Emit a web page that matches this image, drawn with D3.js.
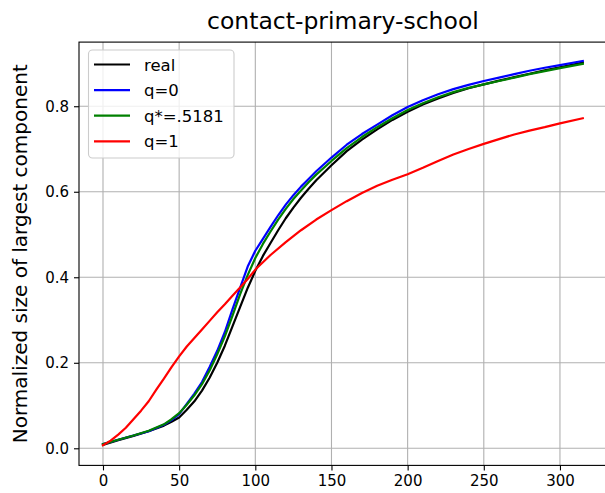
<!DOCTYPE html>
<html>
<head>
<meta charset="utf-8">
<script src="https://cdn.jsdelivr.net/npm/d3@7"></script>
<style>
  html, body { margin: 0; padding: 0; background: #fff; }
  svg { display: block; font-family: "DejaVu Sans", sans-serif; }
</style>
</head>
<body>
<svg id="chart" width="605" height="493"></svg>
<script>
// ---- data ----
const title = "contact-primary-school";
const yLabel = "Normalized size of largest component";
const xTicks = [0, 50, 100, 150, 200, 250, 300];
const yTicks = [0.0, 0.2, 0.4, 0.6, 0.8];

const xReal = [0,10,20,30,40,45,50,55,60,65,70,75,80,85,90,95,100,105,110,115,120,125,130,135,140,150,160,170,180,190,200,210,220,230,240,250,260,270,280,290,300,315];
const yReal = [0.008,0.019,0.029,0.040,0.053,0.062,0.072,0.090,0.110,0.135,0.165,0.200,0.240,0.285,0.330,0.375,0.415,0.450,0.480,0.510,0.538,0.563,0.586,0.607,0.627,0.662,0.695,0.722,0.746,0.768,0.787,0.804,0.818,0.831,0.842,0.851,0.860,0.868,0.876,0.884,0.891,0.902];

const xQ0 = xReal;
const yQ0 = [0.010,0.020,0.030,0.040,0.055,0.066,0.080,0.104,0.128,0.155,0.190,0.228,0.272,0.325,0.375,0.425,0.462,0.490,0.518,0.545,0.570,0.592,0.612,0.630,0.648,0.680,0.710,0.735,0.757,0.779,0.798,0.814,0.828,0.840,0.850,0.859,0.867,0.875,0.883,0.890,0.896,0.906];

const xQs = xReal;
const yQs = [0.010,0.020,0.030,0.041,0.056,0.068,0.082,0.102,0.124,0.150,0.182,0.220,0.262,0.310,0.360,0.405,0.445,0.478,0.507,0.535,0.560,0.583,0.603,0.622,0.640,0.672,0.702,0.728,0.751,0.772,0.791,0.807,0.821,0.833,0.843,0.851,0.859,0.867,0.875,0.882,0.889,0.899];

const xQ1 = [0,5,10,15,20,25,30,35,40,45,50,55,60,65,70,75,80,85,90,95,100,110,120,130,140,150,160,170,180,190,200,210,220,230,240,250,260,270,280,290,300,315];
const yQ1 = [0.007,0.018,0.032,0.048,0.068,0.088,0.110,0.137,0.163,0.190,0.215,0.238,0.258,0.278,0.298,0.318,0.337,0.357,0.376,0.396,0.418,0.452,0.482,0.510,0.535,0.557,0.578,0.597,0.614,0.628,0.641,0.656,0.672,0.687,0.700,0.712,0.723,0.734,0.743,0.751,0.760,0.772];

const seriesNames = ["real", "q=0", "q*=.5181", "q=1"];
const seriesColors = ["#000000", "#0000ff", "#008000", "#ff0000"];
const seriesX = [xReal, xQ0, xQs, xQ1];
const seriesY = [yReal, yQ0, yQs, yQ1];

// ---- layout ----
const svg = d3.select("#chart");
const pLeft = 79, pTop = 42.1, pBottom = 465.4, pRight = 606.8;

const x = d3.scaleLinear().domain([-15.75, 330.75]).range([pLeft, pRight]);
const y = d3.scaleLinear().domain([-0.04, 0.95]).range([pBottom, pTop]);

// grid
const grid = svg.append("g");
grid.selectAll("line.gx").data(xTicks).enter().append("line")
  .attr("x1", d => x(d)).attr("x2", d => x(d))
  .attr("y1", pTop).attr("y2", pBottom)
  .attr("stroke", "#b0b0b0").attr("stroke-width", 1.1);
grid.selectAll("line.gy").data(yTicks).enter().append("line")
  .attr("x1", pLeft).attr("x2", pRight)
  .attr("y1", d => y(d)).attr("y2", d => y(d))
  .attr("stroke", "#b0b0b0").attr("stroke-width", 1.1);

// lines
const line = d3.line().x(d => x(d[0])).y(d => y(d[1]));
seriesNames.forEach((name, i) => {
  const pts = seriesX[i].map((xv, j) => [xv, seriesY[i][j]]);
  svg.append("path")
    .datum(pts)
    .attr("d", line)
    .attr("fill", "none")
    .attr("stroke", seriesColors[i])
    .attr("stroke-width", 2.2)
    .attr("stroke-linejoin", "round")
    .attr("stroke-linecap", "square");
});

// axes
const xAxis = d3.axisBottom(x).tickValues(xTicks).tickFormat(d3.format("d")).tickSize(5).tickPadding(5);
const yAxis = d3.axisLeft(y).tickValues(yTicks).tickFormat(d3.format(".1f")).tickSize(5).tickPadding(5);

const gx = svg.append("g").attr("transform", `translate(0,${pBottom})`).call(xAxis);
const gy = svg.append("g").attr("transform", `translate(${pLeft},0)`).call(yAxis);
[gx, gy].forEach(g => {
  g.select(".domain").remove();
  g.selectAll(".tick line").attr("stroke", "#000").attr("stroke-width", 1.1);
  g.selectAll(".tick text").attr("fill", "#000").style("font-size", "15px").style("font-family", "DejaVu Sans");
});

// spines
svg.append("rect")
  .attr("x", pLeft).attr("y", pTop)
  .attr("width", pRight - pLeft).attr("height", pBottom - pTop)
  .attr("fill", "none").attr("stroke", "#000").attr("stroke-width", 1.1);

// title
svg.append("text")
  .attr("x", (pLeft + pRight) / 2).attr("y", 29)
  .attr("text-anchor", "middle")
  .style("font-size", "23.5px")
  .attr("fill", "#000")
  .text(title);

// y label
svg.append("text")
  .attr("transform", `translate(27,${(pTop + pBottom) / 2}) rotate(-90)`)
  .attr("text-anchor", "middle")
  .style("font-size", "20px")
  .attr("fill", "#000")
  .text(yLabel);

// legend
const lg = svg.append("g");
lg.append("rect")
  .attr("x", 88.5).attr("y", 50).attr("width", 145.5).attr("height", 108)
  .attr("rx", 4).attr("ry", 4)
  .attr("fill", "#fff").attr("fill-opacity", 0.8)
  .attr("stroke", "#cccccc").attr("stroke-width", 1.1);
seriesNames.forEach((name, i) => {
  const cy = 64.5 + i * 25.6;
  lg.append("line")
    .attr("x1", 94).attr("x2", 130)
    .attr("y1", cy).attr("y2", cy)
    .attr("stroke", seriesColors[i]).attr("stroke-width", 2.2);
  lg.append("text")
    .attr("x", 144).attr("y", cy + 6)
    .style("font-size", "16.5px")
    .attr("fill", "#000")
    .text(name);
});
</script>
</body>
</html>
